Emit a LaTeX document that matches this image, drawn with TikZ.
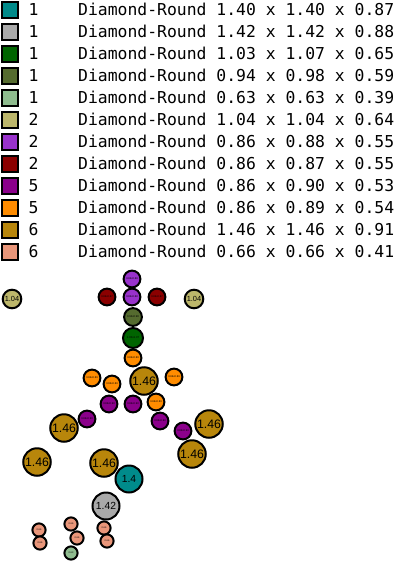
\documentclass[tikz,border=0pt]{standalone}
\usepackage{fontspec}
\setmainfont{Liberation Sans}
\newfontfamily\legmono{DejaVu Sans Mono}
\definecolor{cteal}{RGB}{0,139,139}
\definecolor{cgray}{RGB}{169,169,169}
\definecolor{cdgreen}{RGB}{0,100,0}
\definecolor{colive}{RGB}{85,107,47}
\definecolor{clgreen}{RGB}{143,188,143}
\definecolor{ckhaki}{RGB}{189,183,107}
\definecolor{corchid}{RGB}{153,50,204}
\definecolor{cdred}{RGB}{139,0,0}
\definecolor{cmagenta}{RGB}{139,0,139}
\definecolor{corange}{RGB}{255,140,0}
\definecolor{cgold}{RGB}{184,134,11}
\definecolor{csalmon}{RGB}{233,150,122}
\tikzset{
  legsq/.style={draw=black,line width=2pt},
  legtxt/.style={anchor=base west,inner sep=0pt,font=\legmono\fontsize{16.4}{18}\selectfont},
  ball/.style={circle,draw=black,line width=2pt,inner sep=0pt,text=black},
  big/.style={ball,minimum size=27.5pt,font=\fontsize{12.3}{12.3}\selectfont},
  mid/.style={ball,minimum size=27pt,font=\fontsize{10.3}{10.3}\selectfont},
  kh/.style={ball,minimum size=18.6pt,font=\fontsize{7.4}{7.4}\selectfont},
  sm/.style={ball,minimum size=16.8pt,font=\fontsize{2.6}{2.6}\selectfont},
  dg/.style={ball,minimum size=20pt,font=\fontsize{2.8}{2.8}\selectfont},
  tn/.style={ball,minimum size=13.2pt,font=\fontsize{2.4}{2.4}\selectfont},
}
\begin{document}
\begin{tikzpicture}[x=1pt,y=-1pt]
\useasboundingbox (0,0) rectangle (397,562);
% legend
\foreach \c/\n/\t [count=\i from 0] in {
  cteal/1/1.40 x 1.40 x 0.87,
  cgray/1/1.42 x 1.42 x 0.88,
  cdgreen/1/1.03 x 1.07 x 0.65,
  colive/1/0.94 x 0.98 x 0.59,
  clgreen/1/0.63 x 0.63 x 0.39,
  ckhaki/2/1.04 x 1.04 x 0.64,
  corchid/2/0.86 x 0.88 x 0.55,
  cdred/2/0.86 x 0.87 x 0.55,
  cmagenta/5/0.86 x 0.90 x 0.53,
  corange/5/0.86 x 0.89 x 0.54,
  cgold/6/1.46 x 1.46 x 0.91,
  csalmon/6/0.66 x 0.66 x 0.41}{
  \draw[legsq,fill=\c] (2,{2+22*\i}) rectangle (18,{18+22*\i});
  \node[legtxt] (n\i) at (28.5,{15+22*\i}) {\n};
  \node[legtxt] (t\i) at (78,{15+22*\i}) {Diamond-Round \t};
}
% figure
\node[sm,fill=corchid] (p1) at (132,279) {0.86x0.88};
\node[sm,fill=corchid] (p2) at (132,297) {0.86x0.88};
\node[sm,fill=cdred] (r1) at (107,297) {0.86x0.87};
\node[sm,fill=cdred] (r2) at (157,297) {0.86x0.87};
\node[kh,fill=ckhaki] (k1) at (12,299) {1.04};
\node[kh,fill=ckhaki] (k2) at (194,299) {1.04};
\node[ball,minimum size=17.8pt,font=\fontsize{2.7}{2.7}\selectfont,fill=colive] (o1) at (133,317) {0.94x0.98};
\node[dg,fill=cdgreen] (g1) at (133,338) {1.03x1.07};
\node[sm,fill=corange] (a1) at (133,358) {0.86x0.89};
\node[sm,fill=corange] (a2) at (92,378) {0.86x0.89};
\node[sm,fill=corange] (a3) at (112,384) {0.86x0.89};
\node[sm,fill=corange] (a4) at (174,377) {0.86x0.89};
\node[sm,fill=corange] (a5) at (156,402) {0.86x0.89};
\node[sm,fill=cmagenta] (m1) at (109,404) {0.86x0.90};
\node[sm,fill=cmagenta] (m2) at (133,404) {0.86x0.90};
\node[sm,fill=cmagenta] (m3) at (87,419) {0.86x0.90};
\node[sm,fill=cmagenta] (m4) at (160,421) {0.86x0.90};
\node[sm,fill=cmagenta] (m5) at (183,431) {0.86x0.90};
\node[big,fill=cgold] (b1) at (144,381) {1.46};
\node[big,fill=cgold] (b2) at (64,428) {1.46};
\node[big,fill=cgold] (b3) at (209,424) {1.46};
\node[big,fill=cgold] (b4) at (192,454) {1.46};
\node[big,fill=cgold] (b5) at (37,462) {1.46};
\node[big,fill=cgold] (b6) at (104,463) {1.46};
\node[mid,fill=cteal] (te) at (129,479) {1.4};
\node[mid,fill=cgray] (gr) at (106,506) {1.42};
\node[tn,fill=csalmon] (s1) at (39,530) {0.66};
\node[tn,fill=csalmon] (s2) at (40,543) {0.66};
\node[tn,fill=csalmon] (s3) at (71,524) {0.66};
\node[tn,fill=csalmon] (s4) at (77,538) {0.66};
\node[tn,fill=csalmon] (s5) at (104,528) {0.66};
\node[tn,fill=csalmon] (s6) at (107,541) {0.66};
\node[tn,fill=clgreen] (l1) at (71,553) {0.63};
\end{tikzpicture}
\end{document}
